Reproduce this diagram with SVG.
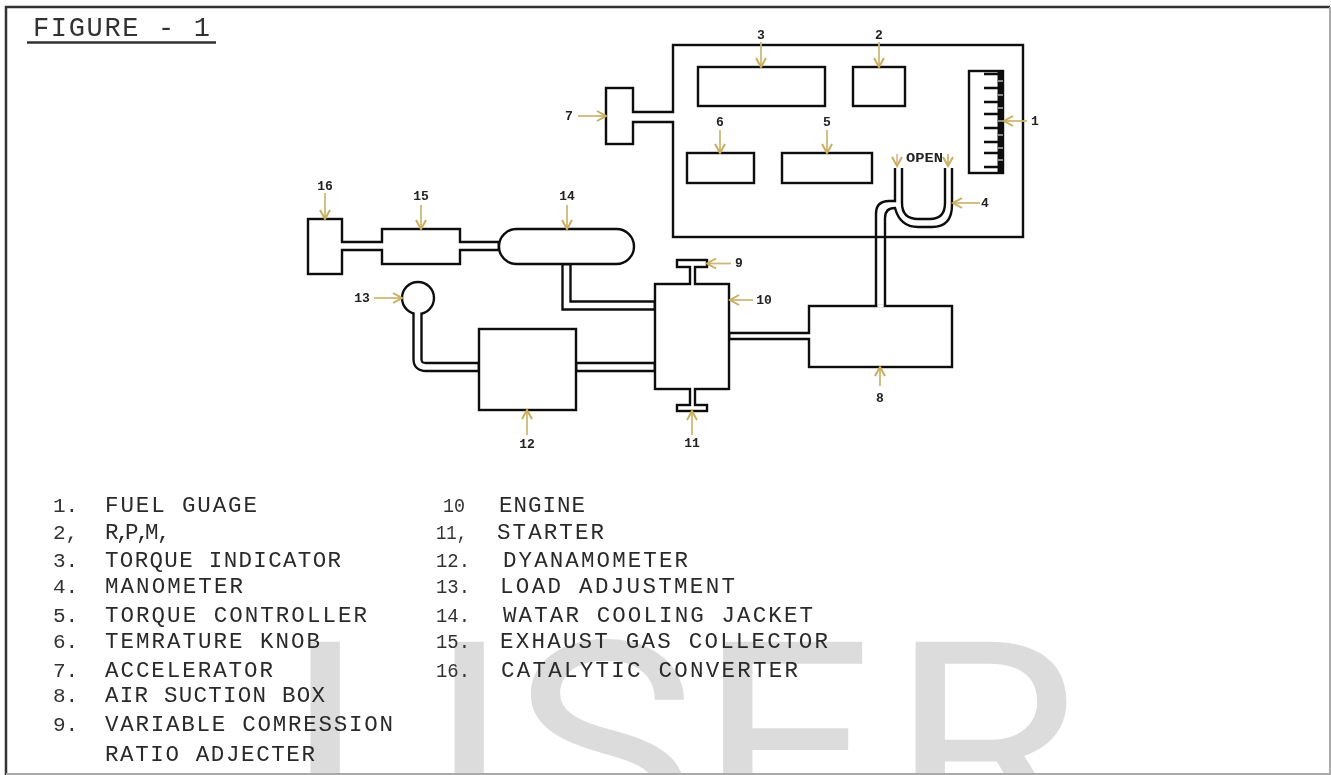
<svg xmlns="http://www.w3.org/2000/svg" width="1331" height="775" viewBox="0 0 1331 775">
<style>
text{font-family:"Liberation Mono","DejaVu Sans Mono",monospace}
.wm{font-family:Roboto,"Liberation Sans",sans-serif;font-size:283px;fill:#dcdcdc}
.leg{font-size:22.500px;fill:#2a2a2a}
.num{font-size:21px;fill:#333}
.lab{font-size:13px;fill:#222;text-anchor:middle;font-weight:bold}
.ln{fill:none;stroke:#111;stroke-width:2.4}
.c10,.c8,.c6,.c5{fill:none;stroke:#111}
.c10{stroke-width:12.4}.c8{stroke-width:10.4}.c6{stroke-width:8.4}.c5{stroke-width:7.4}
.i10,.i8,.i6,.i5{fill:none;stroke:#fff}
.i10{stroke-width:7.6}.i8{stroke-width:5.6}.i6{stroke-width:3.6}.i5{stroke-width:2.6}
.ar{fill:none;stroke:#cdb878;stroke-width:1.8;marker-end:url(#h)}
.soft{filter:url(#b)}
</style>
<defs>
<filter id="b" x="-5%" y="-5%" width="110%" height="110%"><feGaussianBlur stdDeviation="0.45"/></filter>
<marker id="h" markerUnits="userSpaceOnUse" markerWidth="14" markerHeight="14" refX="11" refY="6" orient="auto"><path d="M2 1L11 6L2 11" fill="none" stroke="#c9ae5c" stroke-width="2"/></marker>
</defs>
<rect width="1331" height="775" fill="#fff"/>
<g id="watermark">
<text class="wm" transform="scale(1.1 1)" y="843" x="257 305.500 465 634 809">IJSER</text>
</g>
<g id="frame">
<path d="M6 775V7H1330" fill="none" stroke="#333" stroke-width="2.5"/>
<path d="M1330 7V774H6" fill="none" stroke="#aaa" stroke-width="2"/>
</g>
<g id="title" class="soft">
<text x="33" y="36" style="font-size:27px;fill:#333" textLength="177" lengthAdjust="spacing">FIGURE - 1</text>
<path d="M27 42.5H216" stroke="#333" stroke-width="2.5"/>
</g>
<g class="soft">
<g id="n-panel"><rect class="ln" x="673" y="45" width="350" height="192"/></g>
<g id="n1"><rect class="ln" x="969" y="71" width="34" height="102"/>
<path d="M1000.500 71V173" stroke="#111" stroke-width="6"/>
<path class="ln" d="M984 74H1000M984 88H1000M984 102H1000M984 114H1000M984 128H1000M984 142H1000M984 153H1000M984 167H1000"/>
<path d="M998 81H1003M998 95H1003M998 108H1003M998 121H1003M998 135H1003M998 148H1003M998 160H1003" stroke="#fff" stroke-width="1.2"/>
<path class="ar" d="M1027 121H1004"/><text class="lab" x="1035" y="125">1</text></g>
<g id="n2"><rect class="ln" x="853" y="67" width="52" height="39"/><path class="ar" d="M879 42V67"/><text class="lab" x="879" y="39">2</text></g>
<g id="n3"><rect class="ln" x="698" y="67" width="127" height="39"/><path class="ar" d="M761 42V67"/><text class="lab" x="761" y="39">3</text></g>
<g id="n4"><path class="ln" d="M895 168V201H889Q876 201 876 214V306M885 306V218Q885 208 895 208Q900 227 918 227H932Q952 227 952 205V168M902 168V203Q902 219 918 219H930Q945 219 945 203V168"/>
<path class="ar" d="M980 203H953"/><text class="lab" x="985" y="207">4</text>
<text x="906" y="162" textLength="37" lengthAdjust="spacingAndGlyphs" style="font-size:13px;font-weight:bold;fill:#222">OPEN</text>
<path d="M897 154V166" fill="none" stroke="#e0b8a0" stroke-width="1.8" marker-end="url(#h)"/>
<path d="M948 154V166" fill="none" stroke="#cdb878" stroke-width="1.8" marker-end="url(#h)"/></g>
<g id="n5"><rect class="ln" x="782" y="153" width="90" height="30"/><path class="ar" d="M827 130V153"/><text class="lab" x="827" y="126">5</text></g>
<g id="n6"><rect class="ln" x="687" y="153" width="67" height="30"/><path class="ar" d="M720 130V153"/><text class="lab" x="720" y="126">6</text></g>
<g id="n7"><rect class="ln" x="606" y="88" width="27" height="56"/><path class="ar" d="M578 116H606"/><text class="lab" x="569" y="120">7</text></g>
<g id="n8"><rect class="ln" x="809" y="306" width="143" height="61"/><path d="M877.4 306H883.7" stroke="#fff" stroke-width="3"/><path class="ar" d="M880 386V367"/><text class="lab" x="880" y="402">8</text></g>
<g id="n10"><rect class="ln" x="655" y="284" width="74" height="105"/><path class="ar" d="M753 300H730"/><text class="lab" x="764" y="304">10</text></g>
<g id="n9"><rect class="ln" x="677" y="260" width="30" height="7"/><path class="ar" d="M731 263.500H707"/><text class="lab" x="739" y="267">9</text></g>
<g id="n11"><rect class="ln" x="677" y="405" width="30" height="6"/><path class="ar" d="M692 435V411"/><text class="lab" x="692" y="447">11</text></g>
<g id="n12"><rect class="ln" x="479" y="329" width="97" height="81"/><path class="ar" d="M527 435V410"/><text class="lab" x="527" y="448">12</text></g>
<g id="n13"><circle class="ln" cx="418" cy="298" r="16"/><path class="ar" d="M374 298H402"/><text class="lab" x="362" y="302">13</text></g>
<g id="n14"><rect class="ln" x="499" y="229" width="135" height="35" rx="17.500"/><path class="ar" d="M567 205V229"/><text class="lab" x="567" y="200">14</text></g>
<g id="n15"><rect class="ln" x="382" y="229" width="78" height="35"/><path class="ar" d="M421 205V229"/><text class="lab" x="421" y="200">15</text></g>
<g id="n16"><rect class="ln" x="308" y="219" width="34" height="55"/><path class="ar" d="M325 193V219"/><text class="lab" x="325" y="190">16</text></g>
<g id="connectors">
<path class="c10" d="M633 117H673"/><path class="i10" d="M631 117H675"/>
<path class="c8" d="M342 246H382"/><path class="i8" d="M340 246H384"/>
<path class="c8" d="M460 246H499"/><path class="i8" d="M458 246H497.500"/>
<path class="c8" d="M566.500 264V305.500H655"/><path class="i8" d="M566.500 265.500V305.500H653.500"/>
<path class="c8" d="M417.500 313V359Q417.500 367 426 367H479"/><path class="i8" d="M417.500 311V359Q417.500 367 426 367H477.500"/>
<path class="c8" d="M576 367H655"/><path class="i8" d="M577.500 367H653.500"/>
<path class="c6" d="M729 336H809"/><path class="i6" d="M730.500 336H811"/>
<path class="c5" d="M692.500 267V284"/><path class="i5" d="M692.500 265V286"/>
<path class="c5" d="M692.500 389V405"/><path class="i5" d="M692.500 387V407"/>
</g>
</g>
<g id="legend" class="soft">
<g class="num">
<text x="53" y="512">1.</text><text x="53" y="539">2,</text><text x="53" y="567">3.</text><text x="53" y="593">4.</text><text x="53" y="622">5.</text><text x="53" y="648">6.</text><text x="53" y="677">7.</text><text x="53" y="702">8.</text><text x="53" y="731">9.</text>
<text x="443" y="512" textLength="22" lengthAdjust="spacingAndGlyphs">10</text>
<text x="436" y="539" textLength="31" lengthAdjust="spacingAndGlyphs">11,</text>
<text x="436" y="567" textLength="34" lengthAdjust="spacingAndGlyphs">12.</text>
<text x="436" y="593" textLength="34" lengthAdjust="spacingAndGlyphs">13.</text>
<text x="436" y="622" textLength="34" lengthAdjust="spacingAndGlyphs">14.</text>
<text x="436" y="648" textLength="34" lengthAdjust="spacingAndGlyphs">15.</text>
<text x="436" y="677" textLength="34" lengthAdjust="spacingAndGlyphs">16.</text>
</g>
<g class="leg">
<text x="105" y="512" textLength="152" lengthAdjust="spacing">FUEL GUAGE</text>
<text y="539" x="105 116 125 136 145 157">R,P,M,</text>
<text x="105" y="567" textLength="236" lengthAdjust="spacing">TORQUE INDICATOR</text>
<text x="105" y="593" textLength="138" lengthAdjust="spacing">MANOMETER</text>
<text x="105" y="622" textLength="262" lengthAdjust="spacing">TORQUE CONTROLLER</text>
<text x="105" y="648" textLength="215" lengthAdjust="spacing">TEMRATURE KNOB</text>
<text x="105" y="677" textLength="168" lengthAdjust="spacing">ACCELERATOR</text>
<text x="105" y="702" textLength="220" lengthAdjust="spacing">AIR SUCTION BOX</text>
<text x="105" y="731" textLength="288" lengthAdjust="spacing">VARIABLE COMRESSION</text>
<text x="105" y="761" textLength="210" lengthAdjust="spacing">RATIO ADJECTER</text>
<text x="499" y="512" textLength="86" lengthAdjust="spacing">ENGINE</text>
<text x="497" y="539" textLength="107" lengthAdjust="spacing">STARTER</text>
<text x="503" y="567" textLength="185" lengthAdjust="spacing">DYANAMOMETER</text>
<text x="500" y="593" textLength="235" lengthAdjust="spacing">LOAD ADJUSTMENT</text>
<text x="503" y="622" textLength="310" lengthAdjust="spacing">WATAR COOLING JACKET</text>
<text x="500" y="648" textLength="328" lengthAdjust="spacing">EXHAUST GAS COLLECTOR</text>
<text x="501" y="677" textLength="297" lengthAdjust="spacing">CATALYTIC CONVERTER</text>
</g>
</g>
</svg>
